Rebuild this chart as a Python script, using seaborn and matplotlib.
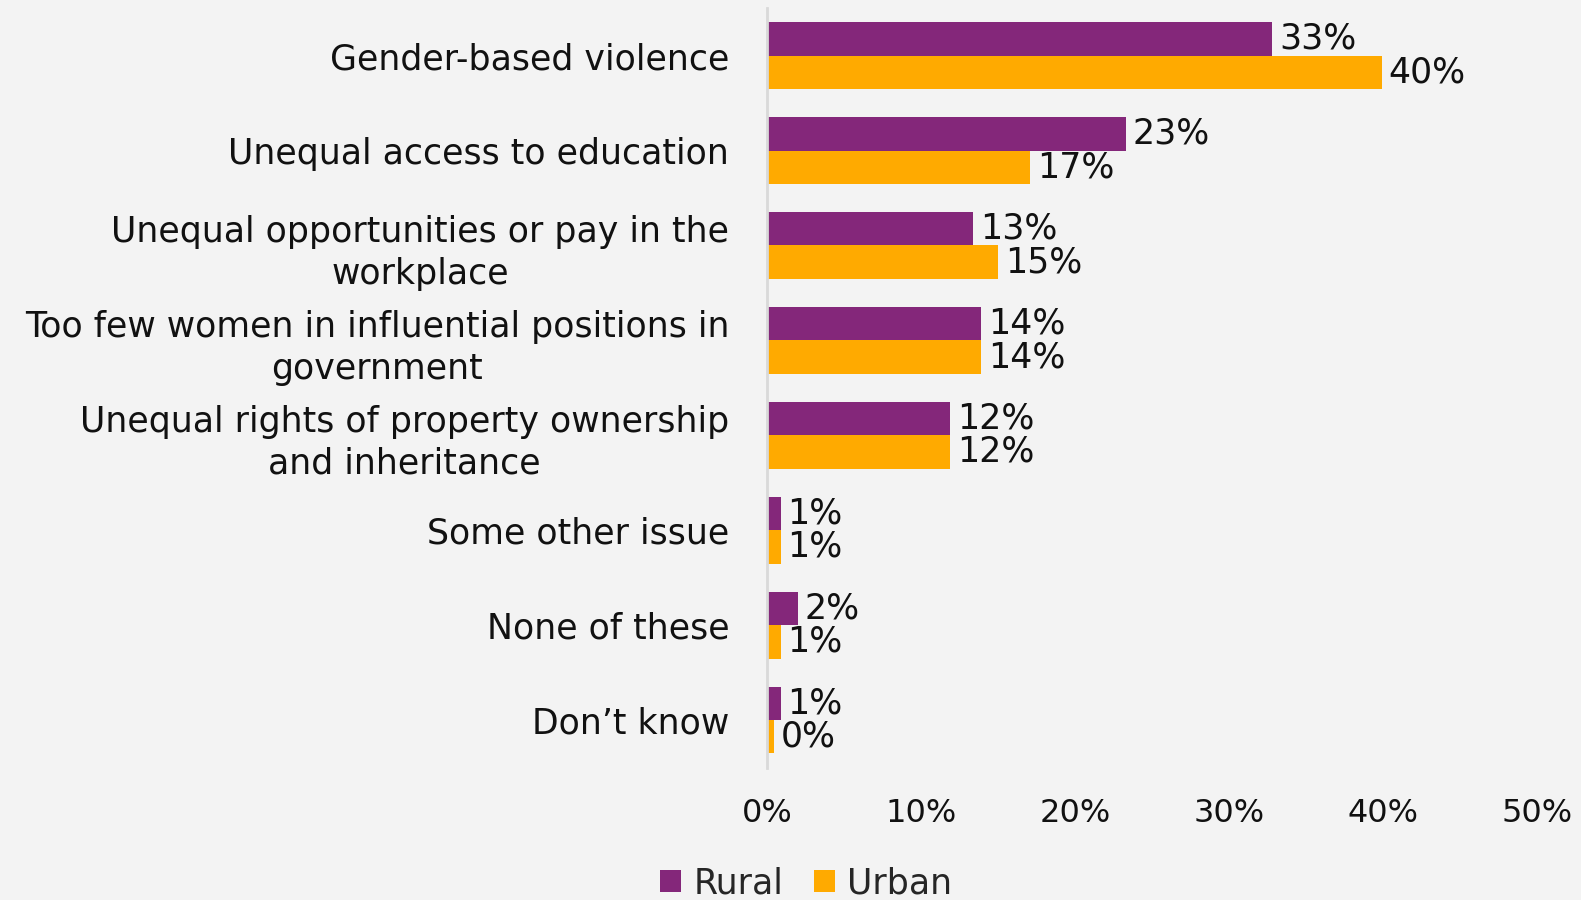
import matplotlib
matplotlib.use("Agg")
import matplotlib.pyplot as plt
import seaborn as sns
import pandas as pd
import numpy as np

categories = [
    "Gender-based violence",
    "Unequal access to education",
    "Unequal opportunities or pay in the\nworkplace",
    "Too few women in influential positions in\ngovernment",
    "Unequal rights of property ownership\nand inheritance",
    "Some other issue",
    "None of these",
    "Don\u2019t know",
]
rural = [32.8, 23.3, 13.4, 13.9, 11.9, 0.9, 2.0, 0.9]
urban = [39.9, 17.1, 15.0, 13.9, 11.9, 0.9, 0.9, 0.45]
rural_labels = ["33%", "23%", "13%", "14%", "12%", "1%", "2%", "1%"]
urban_labels = ["40%", "17%", "15%", "14%", "12%", "1%", "1%", "0%"]
series = ["Rural", "Urban"]
xticks = [0, 10, 20, 30, 40, 50]

df = pd.DataFrame({
    "category": categories * 2,
    "value": rural + urban,
    "series": ["Rural"] * len(categories) + ["Urban"] * len(categories),
})

sns.set_theme(style="white")
plt.rcParams["font.family"] = ["DejaVu Sans"]
bg = "#F3F3F3"
fig = plt.figure(figsize=(15.81, 9.0), dpi=100, facecolor=bg)
ax = fig.add_axes([0.485, 0.147, 0.4875, 0.844])
ax.set_facecolor(bg)

palette = {"Rural": "#84277A", "Urban": "#FFAA00"}
sns.barplot(data=df, y="category", x="value", hue="series", orient="h",
            palette=palette, width=0.7, ax=ax, saturation=1, legend=True,
            linewidth=0, edgecolor="none")

ax.set_xlim(0, 50)
ax.set_ylim(len(categories) - 0.5, -0.5)
ax.set_xticks(xticks)
ax.set_xticklabels([f"{t}%" for t in xticks], fontsize=23, color="#111111")
ax.set_xlabel("")
ax.set_ylabel("")
ax.tick_params(axis="y", length=0, pad=27, labelsize=25, labelcolor="#111111")
ax.tick_params(axis="x", length=0, pad=22)
for lab in ax.get_yticklabels():
    lab.set_multialignment("center")
    lab.set_linespacing(1.3)

for s in ["top", "right", "bottom"]:
    ax.spines[s].set_visible(False)
ax.spines["left"].set_color("#D9D9D9")
ax.spines["left"].set_linewidth(2)

labels_map = {"Rural": rural_labels, "Urban": urban_labels}
for cont, name in zip(ax.containers, series):
    ax.bar_label(cont, labels=labels_map[name], padding=5, fontsize=25, color="#111111")

handles, labs = ax.get_legend_handles_labels()
ax.get_legend().remove()
fig.legend(handles, labs, loc="lower center", bbox_to_anchor=(0.51, -0.035), ncol=2,
           frameon=False, fontsize=25, handlelength=0.6, handleheight=0.6,
           handletextpad=0.35, columnspacing=0.9)

fig.savefig("out.png", dpi=100, facecolor=bg)
